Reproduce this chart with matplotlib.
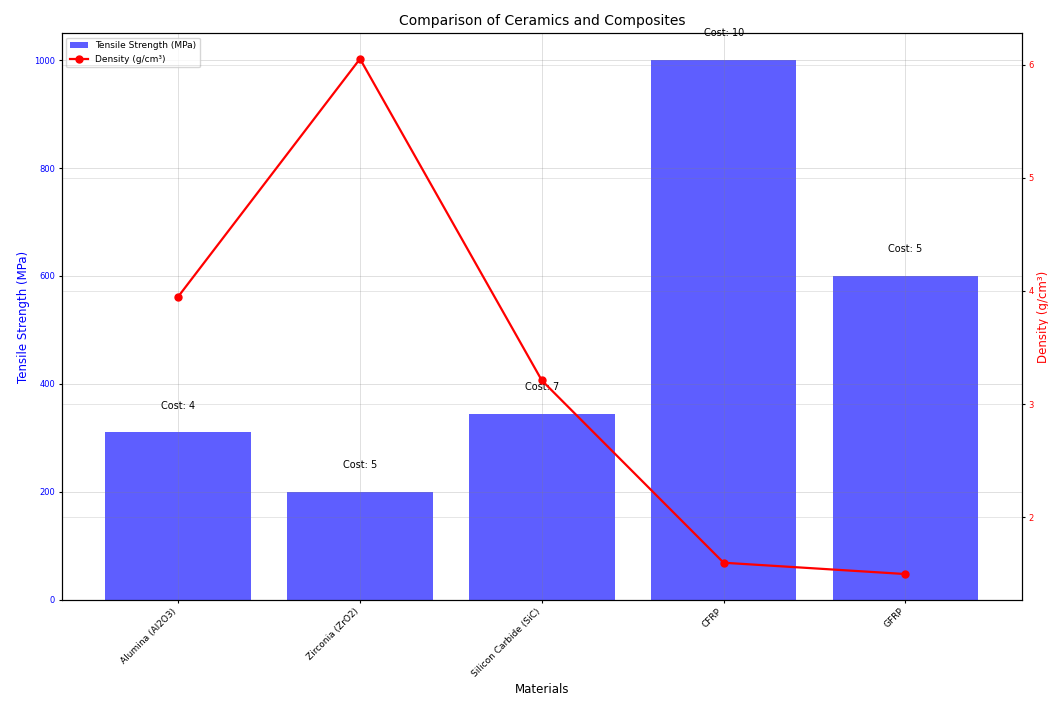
import numpy as np
import matplotlib
matplotlib.use("Agg")
import matplotlib.pyplot as plt

# material properties
materials = ["Alumina (Al2O3)", "Zirconia (ZrO2)", "Silicon Carbide (SiC)", "CFRP", "GFRP"]
strength = [310, 200, 345, 1000, 600]      # MPa
density = [3.95, 6.05, 3.21, 1.6, 1.5]     # g/cm3
cost = [4, 5, 7, 10, 5]

x = np.arange(len(materials))

fig, ax1 = plt.subplots(figsize=(10.48, 7.04), dpi=100)

ax1.bar(x, strength, width=0.8, color="blue", alpha=0.63,
        label="Tensile Strength (MPa)")
ax1.set_xlabel("Materials", fontsize=8.5, labelpad=3)
ax1.set_ylabel("Tensile Strength (MPa)", color="blue", fontsize=8.5, labelpad=3)
ax1.tick_params(axis="y", labelcolor="blue", labelsize=6, length=2.5, pad=2.5)
ax1.tick_params(axis="x", length=2.5, pad=2.5)
ax1.set_xticks(x)
ax1.set_xticklabels(materials, rotation=45, ha="right", fontsize=6.5)
ax1.grid(True, color="gray", alpha=0.25, linewidth=0.7)

# cost above each bar
for xi, h, c in zip(x, strength, cost):
    ax1.text(xi, h + 50, f"Cost: {c}", ha="center", va="center", fontsize=7)

ax2 = ax1.twinx()
ax2.plot(x, density, color="red", marker="o", markersize=5, linewidth=1.6,
         label="Density (g/cm³)")
ax2.set_ylabel("Density (g/cm³)", color="red", fontsize=8.5, labelpad=2)
ax2.tick_params(axis="y", labelcolor="red", labelsize=6, length=2.5, pad=2.5)
ax2.grid(True, color="gray", alpha=0.2, linewidth=0.7)

for ax in (ax1, ax2):
    for s in ax.spines.values():
        s.set_linewidth(0.8)

h1, l1 = ax1.get_legend_handles_labels()
h2, l2 = ax2.get_legend_handles_labels()
ax1.legend(h1 + h2, l1 + l2, loc="upper left", fontsize=6.5)

plt.title("Comparison of Ceramics and Composites", fontsize=10)
fig.subplots_adjust(left=0.059, right=0.975, top=0.953, bottom=0.148)
fig.savefig("out.png", dpi=100)
